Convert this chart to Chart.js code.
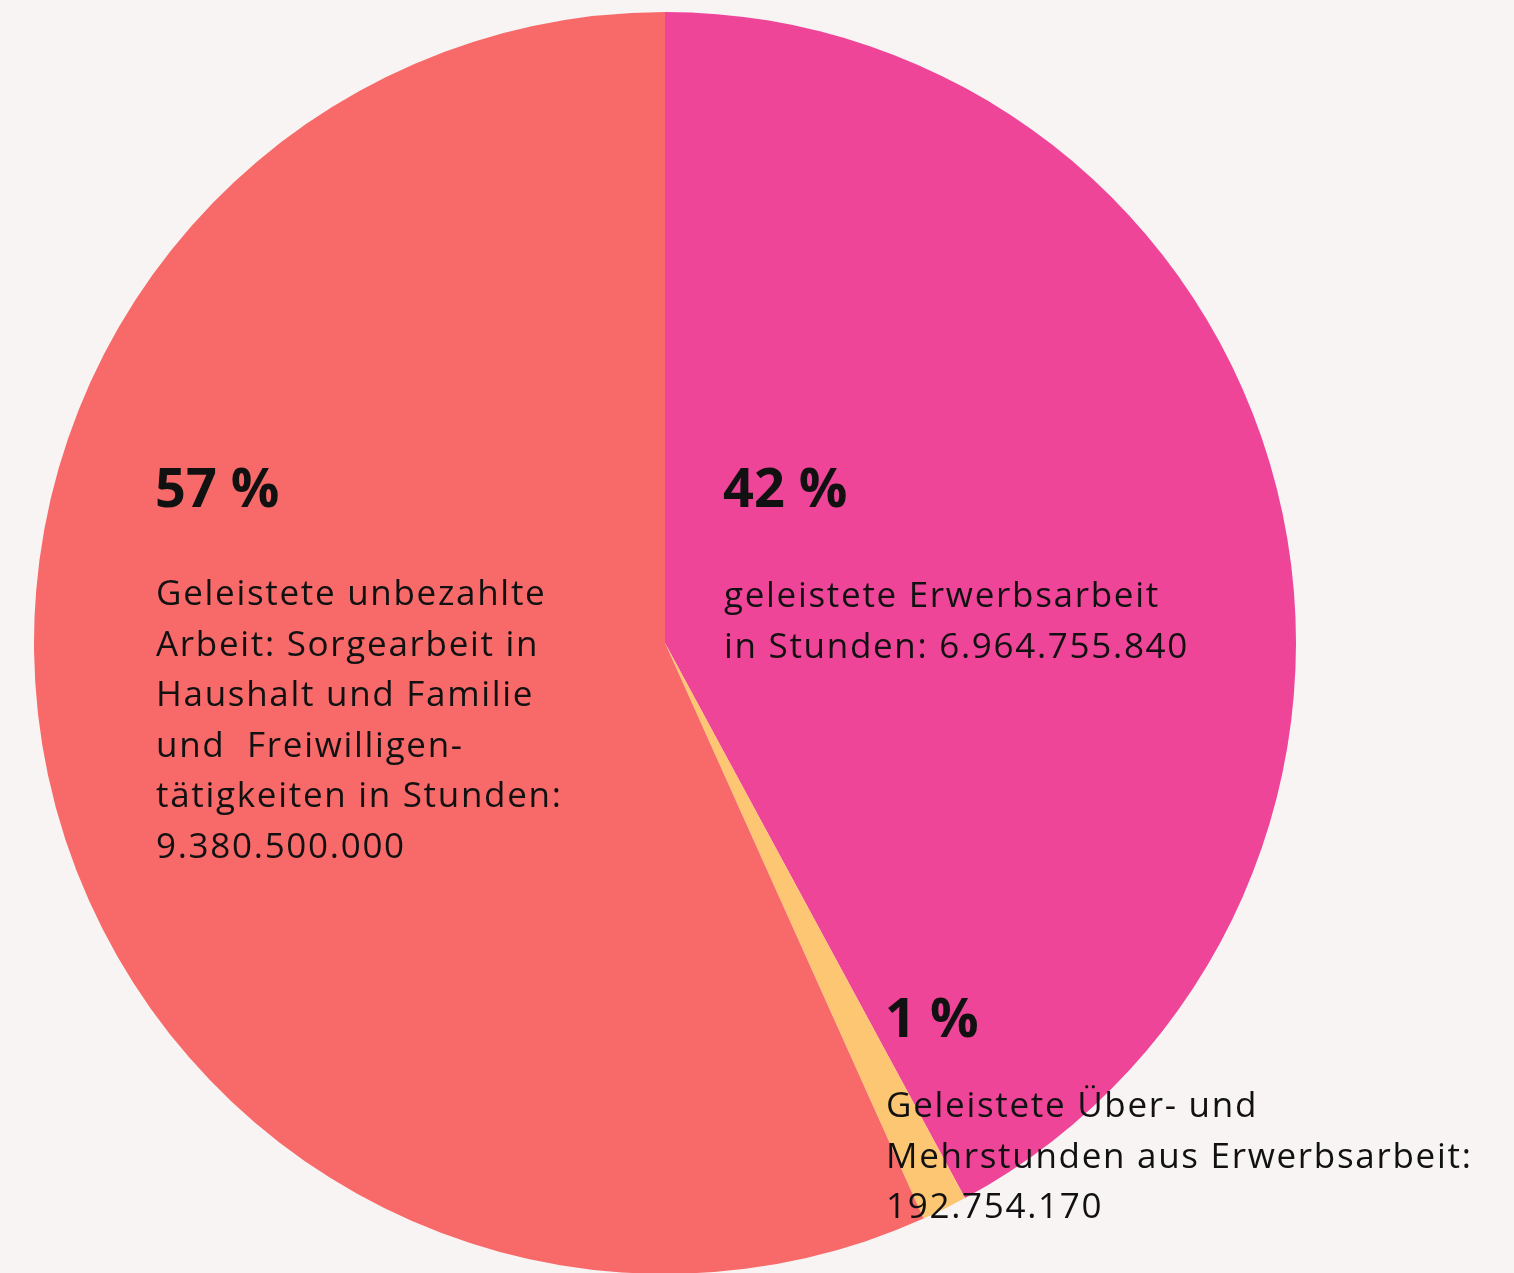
<!DOCTYPE html>
<html>
<head>
<meta charset="utf-8">
<script src="https://cdn.jsdelivr.net/npm/chart.js@4.4.1/dist/chart.umd.min.js"></script>
<style>
  html, body { margin: 0; padding: 0; background: #F8F4F3; overflow: hidden; }
  #wrap { position: relative; width: 1514px; height: 1280px; }
</style>
</head>
<body>
<div id="wrap"><canvas id="c"></canvas></div>
<script>
// ---- data ----
const categories = [
  'geleistete Erwerbsarbeit',
  'Geleistete Über- und Mehrstunden aus Erwerbsarbeit',
  'Geleistete unbezahlte Arbeit'
];
const hours = [6964755840, 192754170, 9380500000];
const percentLabels = ['42 %', '1 %', '57 %'];
const descriptionLines = [
  ['geleistete Erwerbsarbeit', 'in Stunden: 6.964.755.840'],
  ['Geleistete Über- und', 'Mehrstunden aus Erwerbsarbeit:', '192.754.170'],
  ['Geleistete unbezahlte', 'Arbeit: Sorgearbeit in', 'Haushalt und Familie', 'und  Freiwilligen-', 'tätigkeiten in Stunden:', '9.380.500.000']
];

// ---- styles ----
const sliceColors = ['#EE4599', '#FDC673', '#F76A69'];
// label anchor offsets relative to pie centre (px)
const labelOffsets = [
  { dx: 58, pctBase: -136, textBase: -36 },
  { dx: 220, pctBase: 394, textBase: 474 },
  { dx: -510, pctBase: -136, textBase: -38 }
];
const lineGap = 50.6;

const labelPlugin = {
  id: 'sliceLabels',
  afterDraw(chart) {
    const ctx = chart.ctx;
    const arc = chart.getDatasetMeta(0).data[0];
    const cx = arc.x, cy = arc.y;
    ctx.save();
    ctx.fillStyle = '#111111';
    ctx.textBaseline = 'alphabetic';
    ctx.textAlign = 'left';
    percentLabels.forEach((p, i) => {
      const o = labelOffsets[i];
      ctx.letterSpacing = '0px';
      ctx.font = 'bold 54px "Open Sans", sans-serif';
      ctx.fillText(p, cx + o.dx, cy + o.pctBase);
      ctx.font = '35px "Open Sans", sans-serif';
      ctx.letterSpacing = '1.7px';
      descriptionLines[i].forEach((line, j) => {
        ctx.fillText(line, cx + o.dx + 1, cy + o.textBase + j * lineGap);
      });
    });
    ctx.restore();
  }
};

new Chart(document.getElementById('c'), {
  type: 'pie',
  data: {
    labels: categories,
    datasets: [{
      data: hours,
      backgroundColor: sliceColors,
      borderWidth: 0,
      hoverOffset: 0
    }]
  },
  options: {
    responsive: true,
    maintainAspectRatio: false,
    animation: false,
    events: [],
    layout: { padding: { top: 12, bottom: 6, left: 34, right: 218 } },
    plugins: {
      legend: { display: false },
      tooltip: { enabled: false }
    }
  },
  plugins: [labelPlugin]
});
</script>
</body>
</html>
